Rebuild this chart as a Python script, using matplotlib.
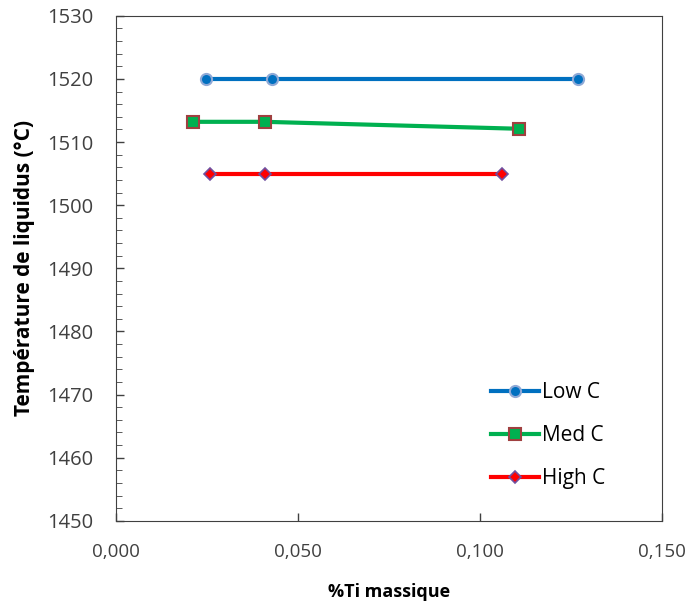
import numpy as np
import matplotlib.pyplot as plt
from matplotlib.ticker import MultipleLocator, FuncFormatter

plt.rcParams['font.family'] = ['Open Sans', 'DejaVu Sans']

# data
low_x = [0.0247, 0.0429, 0.1270]
low_y = [1520, 1520, 1520]
med_x = [0.0212, 0.0409, 0.1107]
med_y = [1513.2, 1513.2, 1512.1]
high_x = [0.0258, 0.0409, 0.1060]
high_y = [1505, 1505, 1505]

fig = plt.figure(figsize=(6.94, 6.05), dpi=100)
ax = fig.add_axes([0.167, 0.139, 0.787, 0.835])

ax.plot(low_x, low_y, color='#0070c0', lw=3, marker='o', ms=8,
        mfc='#0070c0', mec='#8fa9d6', mew=1.5, label='Low C')
ax.plot(med_x, med_y, color='#00b050', lw=3, marker='s', ms=9,
        mfc='#00b050', mec='#a04040', mew=1.5, label='Med C')
ax.plot(high_x, high_y, color='#ff0000', lw=3, marker='D', ms=6,
        mfc='#ff0000', mec='#7050a0', mew=1.2, label='High C')

ax.set_xlim(0, 0.15)
ax.set_ylim(1450, 1530)
ax.xaxis.set_major_locator(MultipleLocator(0.05))
ax.yaxis.set_major_locator(MultipleLocator(10))
ax.yaxis.set_minor_locator(MultipleLocator(2))
ax.xaxis.set_major_formatter(FuncFormatter(lambda v, p: f'{v:.3f}'.replace('.', ',')))

ax.tick_params(axis='both', direction='in', colors='#404040',
               labelcolor='#404040', width=1, length=6)
ax.tick_params(axis='x', labelsize=13.5, pad=16)
ax.tick_params(axis='y', labelsize=14.5, pad=16)
ax.tick_params(axis='y', which='minor', direction='in', length=4, color='#404040')
for s in ax.spines.values():
    s.set_color('#404040')

ax.set_xlabel('%Ti massique', fontsize=13, fontweight='bold', labelpad=16)
ax.set_ylabel('Température de liquidus (°C)', fontsize=15, fontweight='bold', labelpad=9)

ax.legend(loc='lower right', frameon=False, fontsize=15, handlelength=2.3,
          labelspacing=1.05, bbox_to_anchor=(0.93, 0.026), handletextpad=0.15)

fig.savefig('out.png', dpi=100)
